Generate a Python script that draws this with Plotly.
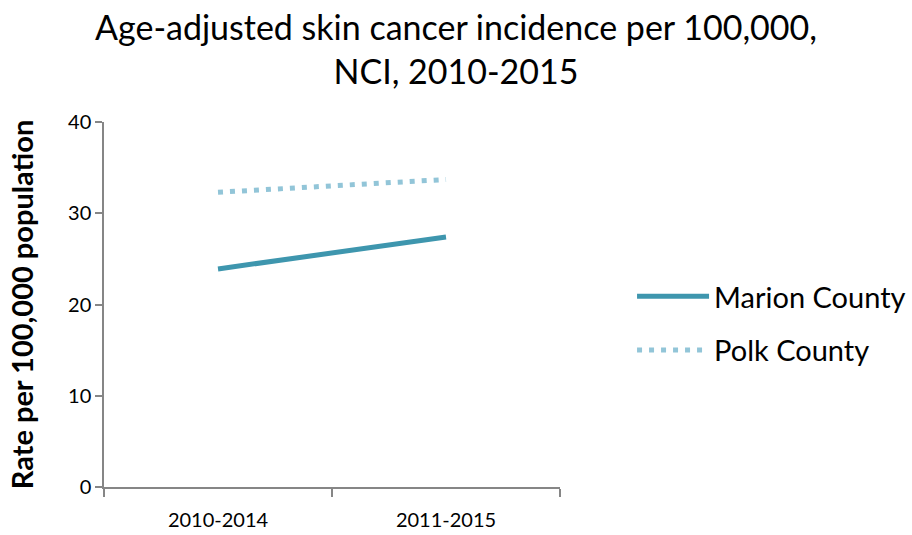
import plotly.graph_objects as go

periods = ["2010-2014", "2011-2015"]
marion_rate = [23.9, 27.4]
polk_rate = [32.3, 33.7]
y_ticks = [0, 10, 20, 30, 40]

FONT = "Lato"
AXIS_GRAY = "#868686"

fig = go.Figure()
fig.add_trace(go.Scatter(
    x=periods, y=marion_rate, name="Marion County", mode="lines",
    legendgroup="marion",
    line=dict(color="#3E96AE", width=5),
))
fig.add_trace(go.Scatter(
    x=periods, y=polk_rate, name="Polk County", mode="lines",
    legendgroup="polk",
    line=dict(color="#92C5D8", width=5, dash="5px,7px"),
))

fig.update_layout(
    width=912, height=535,
    margin=dict(l=104, r=352, t=122, b=48, autoexpand=False),
    paper_bgcolor="white", plot_bgcolor="white",
    font=dict(family=FONT, color="black"),
    title=dict(
        text="Age-adjusted skin cancer incidence per 100,000,<br>NCI, 2010-2015",
        x=0.5, xanchor="center", y=0.925, yanchor="top",
        font=dict(size=34, family=FONT),
    ),
    showlegend=True,
    legend=dict(
        x=1.158, xanchor="left", y=0.448, yanchor="middle",
        font=dict(size=29, family=FONT),
        tracegroupgap=13, itemwidth=72,
        bgcolor="rgba(0,0,0,0)",
    ),
    xaxis=dict(
        type="category", tickson="boundaries", range=[-0.5, 1.5],
        automargin=False,
        showline=True, linecolor=AXIS_GRAY, linewidth=1.5,
        ticks="outside", ticklen=8, tickcolor=AXIS_GRAY, tickwidth=1.5,
        tickfont=dict(size=20, family=FONT), ticklabelstandoff=14,
        showgrid=False, zeroline=False,
    ),
    yaxis=dict(
        range=[0, 40], tickvals=y_ticks, automargin=False,
        showline=True, linecolor=AXIS_GRAY, linewidth=1.5,
        ticks="outside", ticklen=7, tickcolor=AXIS_GRAY, tickwidth=1.5,
        tickfont=dict(size=20, family=FONT),
        showgrid=False, zeroline=False,
        title=dict(text="<b>Rate per 100,000 population</b>", font=dict(size=29, family=FONT), standoff=26),
    ),
)

fig.write_html("out.html")
